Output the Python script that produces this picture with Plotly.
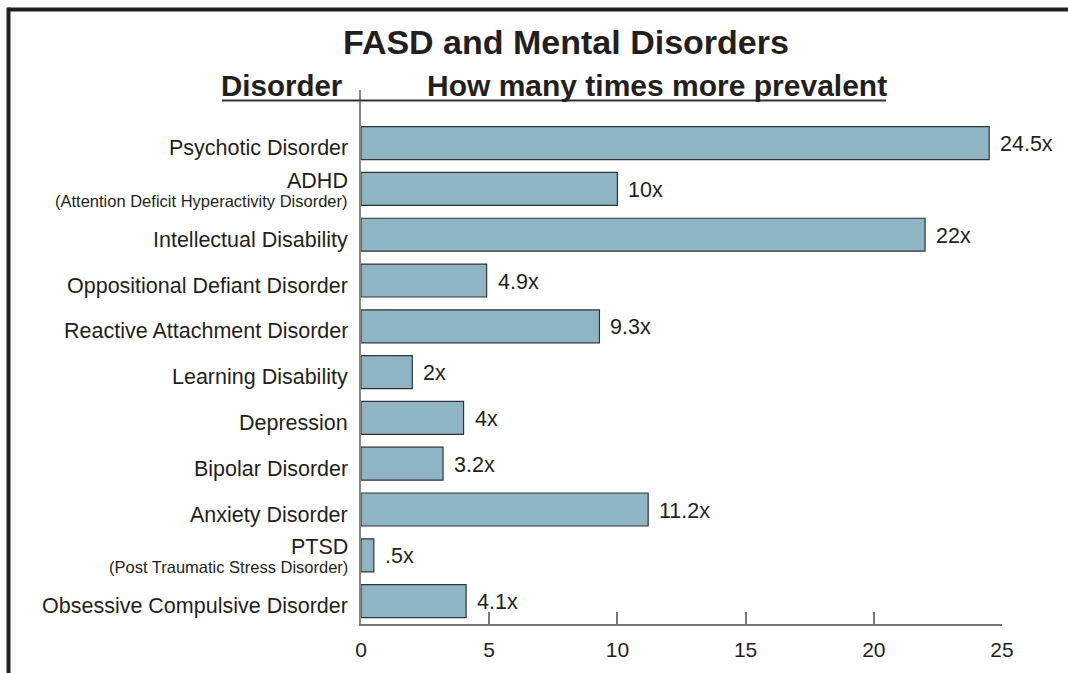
import plotly.graph_objects as go

# ---- data ----
categories = [
    "Psychotic Disorder", "ADHD", "Intellectual Disability",
    "Oppositional Defiant Disorder", "Reactive Attachment Disorder",
    "Learning Disability", "Depression", "Bipolar Disorder",
    "Anxiety Disorder", "PTSD", "Obsessive Compulsive Disorder",
]
subtitles = {
    "ADHD": "(Attention Deficit Hyperactivity Disorder)",
    "PTSD": "(Post Traumatic Stress Disorder)",
}
values = [24.5, 10, 22, 4.9, 9.3, 2, 4, 3.2, 11.2, 0.5, 4.1]
value_labels = ["24.5x", "10x", "22x", "4.9x", "9.3x", "2x", "4x", "3.2x", "11.2x", ".5x", "4.1x"]
x_ticks = [0, 5, 10, 15, 20, 25]

title_text = "FASD and Mental Disorders"
header_left = "Disorder"
header_right = "How many times more prevalent"

# ---- layout geometry ----
W, H = 1068, 673
ML, MR, MT, MB = 361, 66, 90, 45
PW, PH = W - ML - MR, H - MT - MB
FONT = "Liberation Sans, Arial, Helvetica, sans-serif"
TXT = "#231f20"


def px2x(px):
    return (px - ML) / PW


def py2y(py):
    return (H - MB - py) / PH


fig = go.Figure()
fig.add_trace(go.Bar(
    x=values, y=categories, orientation="h",
    marker=dict(color="#8fb5c5", line=dict(color="#333333", width=1.2)),
    hoverinfo="skip",
))

annotations = []
# category labels
for cat in categories:
    if cat in subtitles:
        annotations.append(dict(x=0, y=cat, xref="x", yref="y", text=cat,
                                xanchor="right", yanchor="middle", xshift=-11, yshift=8,
                                showarrow=False, font=dict(family=FONT, size=21.5, color=TXT)))
        annotations.append(dict(x=0, y=cat, xref="x", yref="y", text=subtitles[cat],
                                xanchor="right", yanchor="middle", xshift=-11, yshift=-12,
                                showarrow=False, font=dict(family=FONT, size=16.5, color=TXT)))
    else:
        annotations.append(dict(x=0, y=cat, xref="x", yref="y", text=cat,
                                xanchor="right", yanchor="middle", xshift=-11, yshift=-5,
                                showarrow=False, font=dict(family=FONT, size=21.5, color=TXT)))
# value labels
for cat, v, lab in zip(categories, values, value_labels):
    annotations.append(dict(x=v, y=cat, xref="x", yref="y", text=lab,
                            xanchor="left", yanchor="middle", xshift=9, yshift=-1,
                            showarrow=False, font=dict(family=FONT, size=21.5, color=TXT)))
# title and headers
annotations.append(dict(x=px2x(566), y=py2y(42), xref="paper", yref="paper",
                        text="<b>%s</b>" % title_text, xanchor="center", yanchor="middle",
                        showarrow=False, font=dict(family=FONT, size=34, color=TXT)))
annotations.append(dict(x=px2x(282), y=py2y(85), xref="paper", yref="paper",
                        text="<b>%s</b>" % header_left, xanchor="center", yanchor="middle",
                        showarrow=False, font=dict(family=FONT, size=29.5, color=TXT)))
annotations.append(dict(x=px2x(657), y=py2y(85), xref="paper", yref="paper",
                        text="<b>%s</b>" % header_right, xanchor="center", yanchor="middle",
                        showarrow=False, font=dict(family=FONT, size=30, color=TXT)))

shapes = [
    # header underline
    dict(type="line", xref="paper", yref="paper", x0=px2x(222), x1=px2x(886),
         y0=py2y(100.5), y1=py2y(100.5), line=dict(color="#333333", width=2)),
    # frame (top and left)
    dict(type="line", xref="paper", yref="paper", x0=px2x(8.5), x1=px2x(W + 5),
         y0=py2y(9), y1=py2y(9), line=dict(color="#231f20", width=4)),
    dict(type="line", xref="paper", yref="paper", x0=px2x(8.5), x1=px2x(8.5),
         y0=py2y(7), y1=py2y(H + 5), line=dict(color="#231f20", width=4)),
]

fig.update_layout(
    width=W, height=H,
    margin=dict(l=ML, r=MR, t=MT, b=MB, pad=0),
    paper_bgcolor="white", plot_bgcolor="white",
    showlegend=False, bargap=0.28,
    annotations=annotations, shapes=shapes,
    font=dict(family=FONT, color=TXT),
)
fig.update_xaxes(
    range=[0, 25], tickvals=x_ticks, ticktext=[str(t) for t in x_ticks],
    ticks="inside", ticklen=12, tickwidth=1.5, tickcolor="#777777",
    showline=True, linecolor="#777777", linewidth=2,
    showgrid=False, zeroline=False,
    tickfont=dict(family=FONT, size=21, color=TXT), ticklabelstandoff=6,
    fixedrange=True,
)
fig.update_yaxes(
    categoryorder="array", categoryarray=list(reversed(categories)),
    range=[-0.5, 11.16], showticklabels=False, ticks="",
    showline=True, linecolor="#888888", linewidth=1.6,
    showgrid=False, zeroline=False, fixedrange=True,
)

fig.write_html(
    "out.html",
    config={"displayModeBar": False},
    post_script="document.body.style.margin='0px';document.body.style.overflow='hidden';",
)
